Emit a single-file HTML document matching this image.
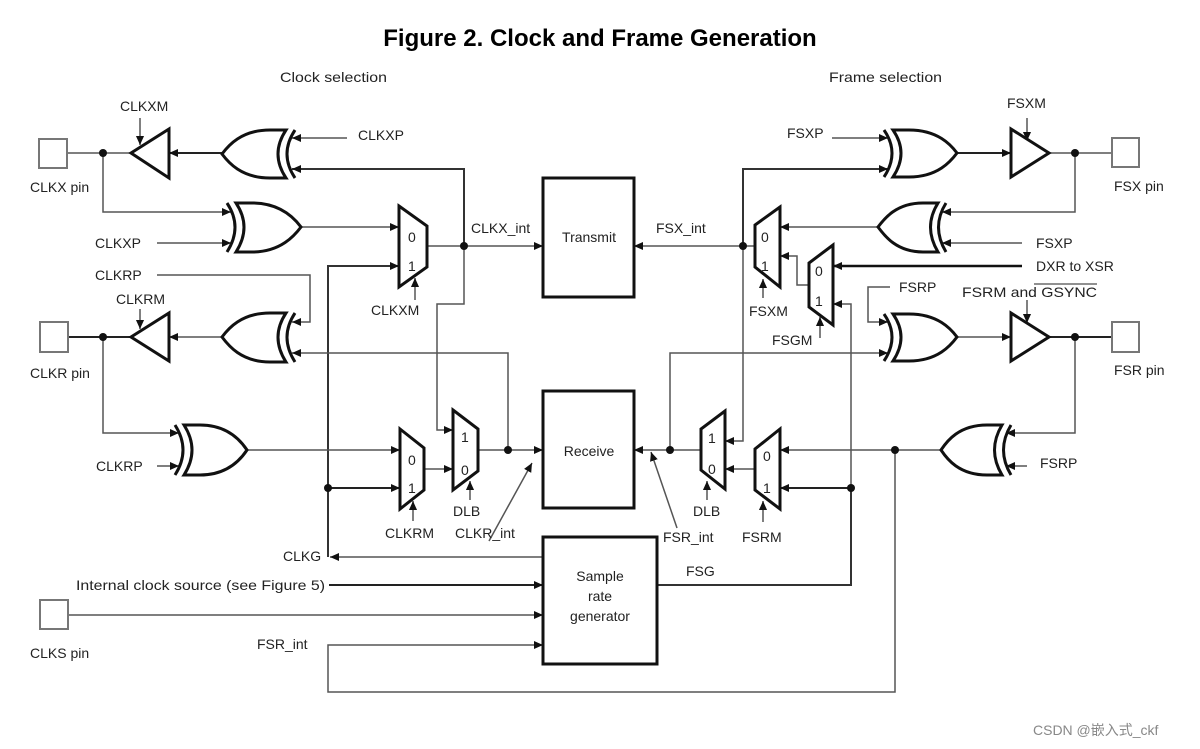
<!DOCTYPE html>
<html><head><meta charset="utf-8"><style>
html,body{margin:0;padding:0;background:#fff;}
svg{display:block;}
text{font-family:"Liberation Sans","Noto Sans CJK SC",sans-serif;fill:#222;font-size:14px;}
</style></head><body>
<svg width="1200" height="749" viewBox="0 0 1200 749" xmlns="http://www.w3.org/2000/svg">
<defs>
<marker id="a" viewBox="0 0 10 10" refX="10" refY="5" markerWidth="9" markerHeight="9" markerUnits="userSpaceOnUse" orient="auto"><path d="M0,0.5 L10,5 L0,9.5 z" fill="#111"/></marker>
</defs>
<text x="600" y="46" text-anchor="middle" font-weight="bold" style="font-size:24px;fill:#000">Figure 2. Clock and Frame Generation</text>
<text x="280" y="82" textLength="107" lengthAdjust="spacingAndGlyphs">Clock  selection</text>
<text x="829" y="82" textLength="113" lengthAdjust="spacingAndGlyphs">Frame selection</text>

<g fill="none" stroke="#555" stroke-width="1.5">
<line x1="68" y1="153" x2="131" y2="153"/>
<line x1="222" y1="153" x2="169" y2="153" marker-end="url(#a)" stroke="#222" stroke-width="2"/>
<line x1="140" y1="118" x2="140" y2="145" marker-end="url(#a)"/>
<line x1="347" y1="138" x2="292" y2="138" marker-end="url(#a)"/>
<polyline points="464,246 464,169 292,169" marker-end="url(#a)" stroke="#333" stroke-width="2"/>
<polyline points="464,246 464,304 437,304 437,430 453,430" marker-end="url(#a)"/>
<line x1="427" y1="246" x2="543" y2="246" marker-end="url(#a)"/>
<polyline points="103,153 103,212 231,212" marker-end="url(#a)"/>
<line x1="157" y1="243" x2="231" y2="243" marker-end="url(#a)"/>
<line x1="301" y1="227" x2="399" y2="227" marker-end="url(#a)"/>
<polyline points="328,557 328,266 399,266" marker-end="url(#a)" stroke="#333" stroke-width="2"/>
<polyline points="157,275 310,275 310,322 292,322" marker-end="url(#a)"/>
<line x1="415" y1="300" x2="415" y2="278" marker-end="url(#a)"/>
<line x1="68" y1="337" x2="131" y2="337" stroke="#222" stroke-width="2"/>
<line x1="222" y1="337" x2="169" y2="337" marker-end="url(#a)"/>
<line x1="140" y1="309" x2="140" y2="329" marker-end="url(#a)"/>
<polyline points="508,450 508,353 292,353" marker-end="url(#a)"/>
<polyline points="103,337 103,433 179,433" marker-end="url(#a)"/>
<line x1="157" y1="466" x2="179" y2="466" marker-end="url(#a)"/>
<line x1="247" y1="450" x2="400" y2="450" marker-end="url(#a)"/>
<line x1="328" y1="488" x2="400" y2="488" marker-end="url(#a)" stroke="#222" stroke-width="2"/>
<line x1="424" y1="469" x2="453" y2="469" marker-end="url(#a)"/>
<line x1="478" y1="450" x2="543" y2="450" marker-end="url(#a)"/>
<line x1="470" y1="500" x2="470" y2="481" marker-end="url(#a)"/>
<line x1="413" y1="521" x2="413" y2="501" marker-end="url(#a)"/>
<line x1="489" y1="541" x2="532" y2="463" marker-end="url(#a)"/>
<line x1="543" y1="557" x2="330" y2="557" marker-end="url(#a)"/>
<line x1="329" y1="585" x2="543" y2="585" marker-end="url(#a)" stroke="#222" stroke-width="2"/>
<line x1="68" y1="615" x2="543" y2="615" marker-end="url(#a)"/>
<polyline points="895,450 895,692 328,692 328,645 543,645" marker-end="url(#a)"/>

<line x1="832" y1="138" x2="888" y2="138" marker-end="url(#a)"/>
<polyline points="743,246 743,169 888,169" marker-end="url(#a)" stroke="#333" stroke-width="2"/>
<polyline points="743,246 743,441 725,441" marker-end="url(#a)"/>
<line x1="957" y1="153" x2="1011" y2="153" marker-end="url(#a)" stroke="#222" stroke-width="2"/>
<line x1="1027" y1="118" x2="1027" y2="141" marker-end="url(#a)"/>
<line x1="1049" y1="153" x2="1112" y2="153"/>
<polyline points="1075,153 1075,212 942,212" marker-end="url(#a)"/>
<line x1="1022" y1="243" x2="942" y2="243" marker-end="url(#a)"/>
<line x1="878" y1="227" x2="780" y2="227" marker-end="url(#a)"/>
<line x1="755" y1="246" x2="634" y2="246" marker-end="url(#a)"/>
<polyline points="809,285 797,285 797,256 780,256" marker-end="url(#a)"/>
<line x1="1022" y1="266" x2="833" y2="266" marker-end="url(#a)" stroke="#111" stroke-width="2.5"/>
<polyline points="851,488 851,304 833,304" marker-end="url(#a)"/>
<line x1="763" y1="298" x2="763" y2="279" marker-end="url(#a)"/>
<line x1="820" y1="338" x2="820" y2="317" marker-end="url(#a)"/>
<polyline points="890,287 868,287 868,322 888,322" marker-end="url(#a)"/>
<polyline points="670,450 670,353 888,353" marker-end="url(#a)"/>
<line x1="957" y1="337" x2="1011" y2="337" marker-end="url(#a)"/>
<line x1="1027" y1="300" x2="1027" y2="323" marker-end="url(#a)"/>
<line x1="1049" y1="337" x2="1112" y2="337" stroke="#222" stroke-width="2"/>
<polyline points="1075,337 1075,433 1006,433" marker-end="url(#a)"/>
<line x1="1027" y1="466" x2="1006" y2="466" marker-end="url(#a)"/>
<line x1="941" y1="450" x2="780" y2="450" marker-end="url(#a)"/>
<line x1="701" y1="450" x2="634" y2="450" marker-end="url(#a)"/>
<line x1="755" y1="469" x2="725" y2="469" marker-end="url(#a)"/>
<polyline points="851,488 780,488" marker-end="url(#a)" stroke="#222" stroke-width="2"/>
<polyline points="851,488 851,585 657,585" stroke="#333" stroke-width="2"/>
<line x1="707" y1="500" x2="707" y2="481" marker-end="url(#a)"/>
<line x1="763" y1="522" x2="763" y2="501" marker-end="url(#a)"/>
<line x1="677" y1="528" x2="651" y2="452" marker-end="url(#a)"/>
</g>

<g fill="#111">
<circle cx="103" cy="153" r="4"/><circle cx="464" cy="246" r="4"/><circle cx="103" cy="337" r="4"/>
<circle cx="328" cy="488" r="4"/><circle cx="508" cy="450" r="4"/><circle cx="1075" cy="153" r="4"/>
<circle cx="743" cy="246" r="4"/><circle cx="1075" cy="337" r="4"/><circle cx="670" cy="450" r="4"/>
<circle cx="851" cy="488" r="4"/><circle cx="895" cy="450" r="4"/>
</g>

<g fill="#fff" stroke="#777" stroke-width="2">
<rect x="39" y="139" width="28" height="29"/>
<rect x="40" y="322" width="28" height="30"/>
<rect x="40" y="600" width="28" height="29"/>
<rect x="1112" y="138" width="27" height="29"/>
<rect x="1112" y="322" width="27" height="30"/>
</g>

<g fill="#fff" stroke="#111" stroke-width="3" stroke-linejoin="miter">
<path d="M286,130 L270,130 C241,130 228,146 222,154 C228,162 241,178 270,178 L286,178 Q270,154 286,130 Z"/>
<path d="M295,130 Q279,154 295,178" fill="none"/>
<path d="M236,203 L252,203 C281,203 295,219 301,227 C295,235 281,252 252,252 L236,252 Q252,227 236,203 Z"/>
<path d="M227,203 Q243,227 227,252" fill="none"/>
<path d="M286,313 L270,313 C241,313 228,329 222,337 C228,345 241,362 270,362 L286,362 Q270,337 286,313 Z"/>
<path d="M295,313 Q279,337 295,362" fill="none"/>
<path d="M184,425 L200,425 C228,425 241,441 247,450 C241,459 228,475 200,475 L184,475 Q200,450 184,425 Z"/>
<path d="M175,425 Q191,450 175,475" fill="none"/>
<path d="M893,130 L909,130 C938,130 951,145 957,153 C951,161 938,177 909,177 L893,177 Q909,153 893,130 Z"/>
<path d="M884,130 Q900,153 884,177" fill="none"/>
<path d="M938,203 L923,203 C896,203 884,219 878,227 C884,235 896,252 923,252 L938,252 Q923,227 938,203 Z"/>
<path d="M946,203 Q931,227 946,252" fill="none"/>
<path d="M893,314 L909,314 C938,314 951,329 957,337 C951,345 938,361 909,361 L893,361 Q909,337 893,314 Z"/>
<path d="M884,314 Q900,337 884,361" fill="none"/>
<path d="M1002,425 L987,425 C959,425 947,441 941,450 C947,459 959,475 987,475 L1002,475 Q987,450 1002,425 Z"/>
<path d="M1011,425 Q996,450 1011,475" fill="none"/>
<polygon points="131,153 169,129 169,178"/>
<polygon points="131,337 169,313 169,361"/>
<polygon points="1049,153 1011,129 1011,177"/>
<polygon points="1049,337 1011,313 1011,361"/>
<polygon points="399,206 427,226 427,267 399,287"/>
<polygon points="400,429 424,448 424,490 400,509"/>
<polygon points="453,410 478,429 478,471 453,490"/>
<polygon points="780,207 755,225 755,267 780,287"/>
<polygon points="833,245 809,263 809,307 833,325"/>
<polygon points="725,411 701,429 701,470 725,489"/>
<polygon points="780,429 755,449 755,490 780,509"/>
<rect x="543" y="178" width="91" height="119"/>
<rect x="543" y="391" width="91" height="117"/>
<rect x="543" y="537" width="114" height="127"/>
</g>

<g style="font-size:14px">
<text x="408" y="242">0</text><text x="408" y="271">1</text>
<text x="408" y="465">0</text><text x="408" y="493">1</text>
<text x="461" y="442">1</text><text x="461" y="475">0</text>
<text x="761" y="242">0</text><text x="761" y="271">1</text>
<text x="815" y="276">0</text><text x="815" y="306">1</text>
<text x="708" y="443">1</text><text x="708" y="474">0</text>
<text x="763" y="461">0</text><text x="763" y="493">1</text>
</g>

<text x="30" y="192">CLKX pin</text>
<text x="30" y="378">CLKR pin</text>
<text x="30" y="658">CLKS pin</text>
<text x="1114" y="191">FSX pin</text>
<text x="1114" y="375">FSR pin</text>
<text x="120" y="111">CLKXM</text>
<text x="116" y="304">CLKRM</text>
<text x="358" y="140">CLKXP</text>
<text x="95" y="248">CLKXP</text>
<text x="95" y="280">CLKRP</text>
<text x="96" y="471">CLKRP</text>
<text x="371" y="315">CLKXM</text>
<text x="471" y="233">CLKX_int</text>
<text x="589" y="242" text-anchor="middle">Transmit</text>
<text x="589" y="456" text-anchor="middle">Receive</text>
<text x="600" y="581" text-anchor="middle">Sample</text>
<text x="600" y="601" text-anchor="middle">rate</text>
<text x="600" y="621" text-anchor="middle">generator</text>
<text x="385" y="538">CLKRM</text>
<text x="453" y="516">DLB</text>
<text x="455" y="538">CLKR_int</text>
<text x="283" y="561">CLKG</text>
<text x="76" y="590" textLength="249" lengthAdjust="spacingAndGlyphs">Internal clock source (see Figure 5)</text>
<text x="257" y="649">FSR_int</text>
<text x="656" y="233">FSX_int</text>
<text x="787" y="138">FSXP</text>
<text x="1007" y="108">FSXM</text>
<text x="1036" y="248">FSXP</text>
<text x="1036" y="271">DXR to XSR</text>
<text x="749" y="316">FSXM</text>
<text x="772" y="345">FSGM</text>
<text x="899" y="292">FSRP</text>
<text x="962" y="297" textLength="135" lengthAdjust="spacingAndGlyphs">FSRM and GSYNC</text>
<line x1="1034" y1="284" x2="1097" y2="284" stroke="#222" stroke-width="1"/>
<text x="1040" y="468">FSRP</text>
<text x="693" y="516">DLB</text>
<text x="663" y="542">FSR_int</text>
<text x="742" y="542">FSRM</text>
<text x="686" y="576">FSG</text>
<text x="1033" y="735" style="fill:#888;font-size:14px">CSDN @嵌入式_ckf</text>
</svg>
</body></html>
